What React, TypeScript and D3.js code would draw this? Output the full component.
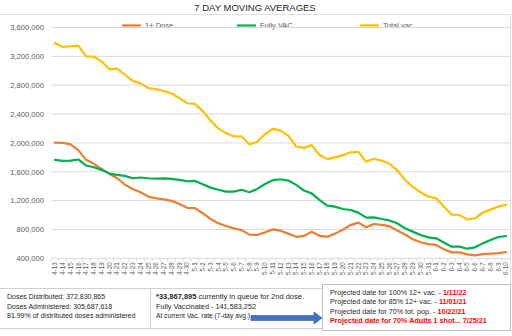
import React from "react";
import * as d3 from "d3";

const dates = [
  "4-13","4-14","4-15","4-16","4-17","4-18","4-19","4-20","4-21","4-22","4-23","4-24","4-25","4-26","4-27","4-28","4-29","4-30",
  "5-1","5-2","5-3","5-4","5-5","5-6","5-7","5-8","5-9","5-10","5-11","5-12","5-13","5-14","5-15","5-16","5-17","5-18","5-19","5-20",
  "5-21","5-22","5-23","5-24","5-25","5-26","5-27","5-28","5-29","5-30","5-31",
  "6-1","6-2","6-3","6-4","6-5","6-6","6-7","6-8","6-9","6-10"
];

const oneDose = [
  2.005,2.0,1.98,1.90,1.765,1.71,1.64,1.57,1.51,1.42,1.362,1.316,1.256,1.232,1.218,1.196,1.154,1.10,1.095,1.025,
  0.945,0.885,0.848,0.815,0.79,0.728,0.724,0.76,0.80,0.783,0.742,0.698,0.71,0.77,0.712,0.70,0.742,0.797,0.862,0.894,
  0.83,0.876,0.864,0.845,0.785,0.73,0.665,0.623,0.596,0.586,0.525,0.482,0.482,0.455,0.44,0.459,0.464,0.473,0.487
];

const fullyVac = [
  1.765,1.75,1.755,1.77,1.686,1.663,1.626,1.575,1.556,1.543,1.51,1.52,1.51,1.505,1.507,1.50,1.487,1.468,1.473,1.427,
  1.38,1.35,1.325,1.325,1.35,1.316,1.362,1.43,1.483,1.496,1.478,1.418,1.34,1.30,1.21,1.13,1.117,1.084,1.07,1.033,
  0.964,0.968,0.945,0.925,0.885,0.816,0.77,0.724,0.69,0.677,0.62,0.561,0.561,0.533,0.552,0.607,0.653,0.695,0.709
];

const totalVac = [
  3.385,3.33,3.34,3.35,3.20,3.195,3.13,3.02,3.03,2.945,2.86,2.825,2.76,2.745,2.72,2.685,2.62,2.55,2.54,2.44,
  2.31,2.2,2.135,2.09,2.09,1.98,2.015,2.12,2.195,2.17,2.10,1.95,1.93,1.97,1.835,1.775,1.80,1.83,1.87,1.875,
  1.74,1.78,1.755,1.71,1.62,1.49,1.39,1.316,1.256,1.232,1.117,1.005,1.0,0.94,0.955,1.033,1.075,1.117,1.142
];

const yTicks = [400000, 800000, 1200000, 1600000, 2000000, 2400000, 2800000, 3200000, 3600000];

const seriesNames = ["1+ Dose", "Fully VAC.", "Total vac"];
const seriesColors = ["#ED7D31", "#00B050", "#FFC000"];

const leftNotes = [
  "Doses Distributed: 372,830,865",
  "Doses Administered: 305,687,618",
  "81.99% of distributed doses administered",
];

const FONT = "'Liberation Sans', Arial, sans-serif";

export default function App() {
  const x = d3.scaleBand<string>().domain(dates).range([51.1, 510]);
  const y = d3.scaleLinear().domain([400000, 3600000]).range([258.3, 27.5]);
  const cx = (d: string) => (x(d) as number) + x.bandwidth() / 2;

  const line = d3
    .line<number>()
    .x((_, i) => cx(dates[i]))
    .y((v) => y(v * 1e6));

  const series = [oneDose, fullyVac, totalVac];
  const fmt = d3.format(",");
  const legendX = [122, 237, 360];

  return (
    <svg
      width={512}
      height={336}
      style={{ position: "absolute", left: 0, top: 0, display: "block", background: "#fff" }}
      fontFamily={FONT}
    >
      <rect x={0} y={0} width={512} height={336} fill="#fff" />
      {/* frame lines */}
      <line x1={0} x2={511} y1={14.5} y2={14.5} stroke="#e0e0e0" />
      <line x1={510.5} x2={510.5} y1={14} y2={288} stroke="#e0e0e0" />
      <line x1={0} x2={511} y1={288.5} y2={288.5} stroke="#d0d0d0" />
      <line x1={150.5} x2={150.5} y1={288} y2={328} stroke="#d0d0d0" />
      <line x1={0} x2={511} y1={328.5} y2={328.5} stroke="#d0d0d0" />

      <text x={255} y={11} textAnchor="middle" fontSize={9.5} fill="#262626">
        7 DAY MOVING AVERAGES
      </text>

      {/* legend */}
      {seriesNames.map((n, i) => (
        <g key={n}>
          <line x1={legendX[i]} x2={legendX[i] + 19} y1={25.5} y2={25.5} stroke={seriesColors[i]} strokeWidth={2.2} />
          <text x={legendX[i] + 23} y={28} fontSize={7.5} fill="#595959">{n}</text>
        </g>
      ))}

      {/* gridlines & y labels */}
      {yTicks.map((t) => (
        <g key={t}>
          {t > 400000 && (
            <line x1={51.1} x2={510} y1={y(t)} y2={y(t)} stroke="#D9D9D9" strokeWidth={1} />
          )}
          <text x={44} y={y(t) + 2.8} textAnchor="end" fontSize={7.6} fill="#595959">
            {fmt(t)}
          </text>
        </g>
      ))}

      {/* x axis */}
      <line x1={51.1} x2={510} y1={y(400000)} y2={y(400000)} stroke="#D9D9D9" />
      {dates.map((d) => (
        <line key={"t" + d} x1={x(d) as number} x2={x(d) as number} y1={y(400000)} y2={y(400000) + 3} stroke="#D9D9D9" />
      ))}
      <line x1={510} x2={510} y1={y(400000)} y2={y(400000) + 3} stroke="#D9D9D9" />
      {dates.map((d) => (
        <text
          key={"l" + d}
          transform={`translate(${cx(d) + 2.2},${y(400000) + 4}) rotate(-90)`}
          textAnchor="end"
          fontSize={6.3}
          fill="#595959"
        >
          {d}
        </text>
      ))}

      {/* series lines */}
      {series.map((s, i) => (
        <path key={i} d={line(s) || ""} fill="none" stroke={seriesColors[i]} strokeWidth={2.2} strokeLinejoin="round" strokeLinecap="round" />
      ))}

      {/* bottom notes */}
      {leftNotes.map((t, i) => (
        <text key={t} x={7} y={299 + i * 9.5} fontSize={7} fill="#262626">{t}</text>
      ))}
      <text x={156} y={299} fontSize={7} fill="#262626" textLength={148} lengthAdjust="spacingAndGlyphs">
        <tspan fontWeight="bold">*33,867,895</tspan> currently in queue for 2nd dose.
      </text>
      <text x={156} y={308.5} fontSize={7} fill="#262626" textLength={100} lengthAdjust="spacingAndGlyphs">
        Fully Vaccinated - 141,583,252
      </text>
      <text x={156} y={318} fontSize={7} fill="#262626" textLength={94} lengthAdjust="spacingAndGlyphs">
        At current Vac. rate (7-day avg.)
      </text>

      {/* arrow */}
      <path
        d="M251,315.5 L314,315.5 L314,312 L322,318 L314,324 L314,320.5 L251,320.5 Z"
        fill="#4472C4"
        stroke="#2F528F"
        strokeWidth={0.6}
      />

      {/* projections box */}
      <rect x={322.5} y={284.5} width={188} height={46} fill="#fff" stroke="#bfbfbf" />
      <text x={330} y={295} fontSize={7.2} fill="#262626">
        Projected date for 100% 12+ vac. - <tspan fill="#FF0000" fontWeight="bold">1/11/22</tspan>
      </text>
      <text x={330} y={304.3} fontSize={7.2} fill="#262626">
        Projected date for 85% 12+ vac. - <tspan fill="#FF0000" fontWeight="bold">11/01/21</tspan>
      </text>
      <text x={330} y={313.6} fontSize={7.2} fill="#262626">
        Projected date for 70% tot. pop. - <tspan fill="#FF0000" fontWeight="bold">10/22/21</tspan>
      </text>
      <text x={330} y={322.9} fontSize={7.2} fill="#FF0000" fontWeight="bold">
        Projected date for 70% Adults 1 shot... 7/25/21
      </text>
    </svg>
  );
}
